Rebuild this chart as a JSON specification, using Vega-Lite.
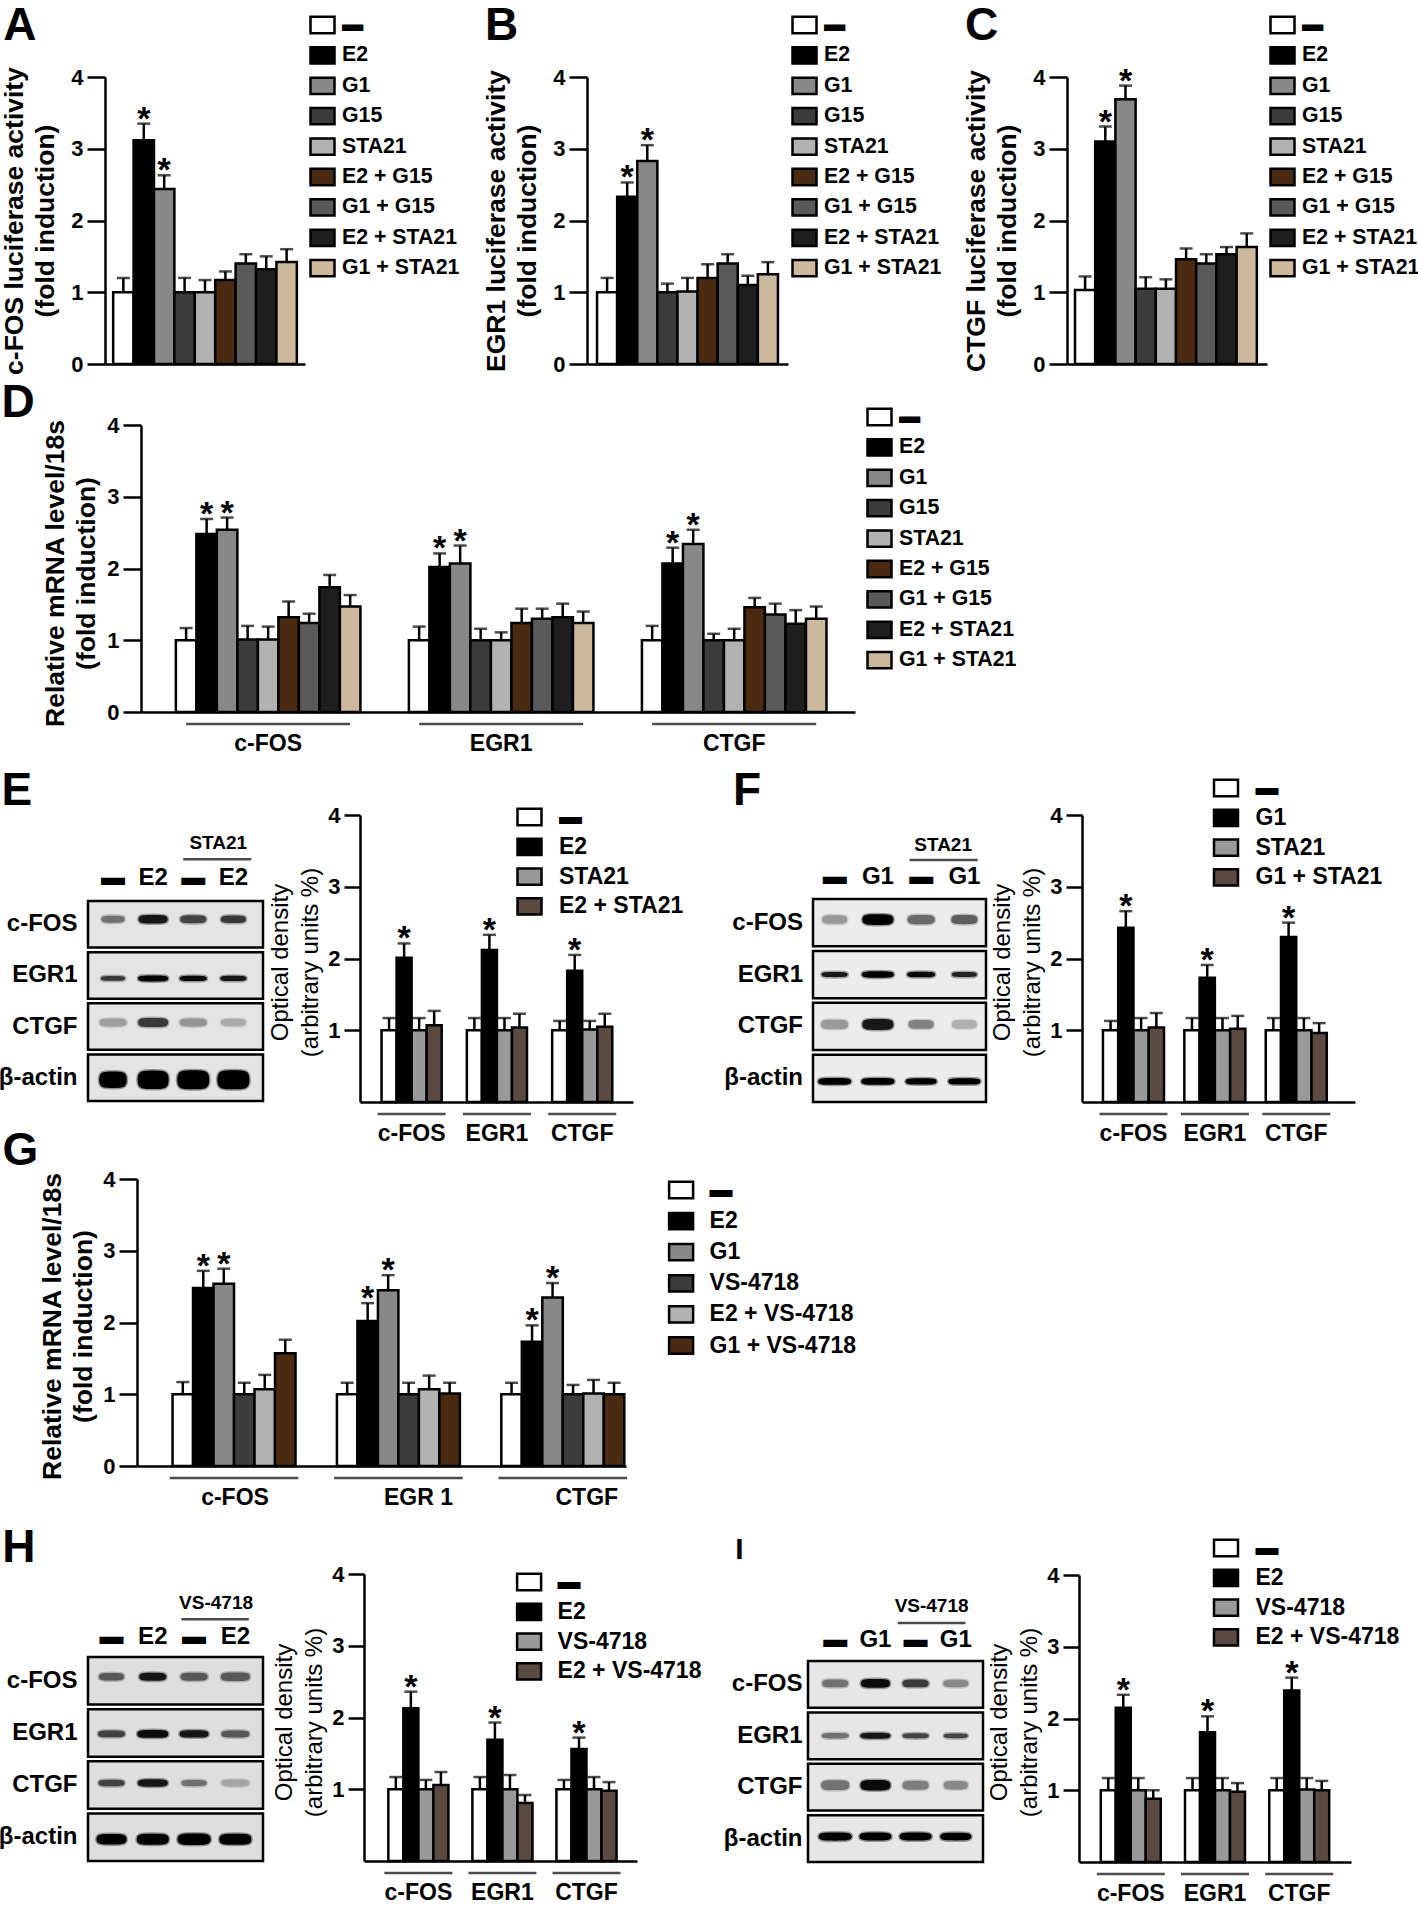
{"$schema":"https://vega.github.io/schema/vega-lite/v6.json","padding":0,"background":"white","width":1418,"height":1905,"autosize":"none",
"config":{"font":"Liberation Sans","numberFormat":"d","view":{"stroke":null},
"axis":{"grid":false,"domainColor":"black","tickColor":"black","domainWidth":2.5,"tickWidth":2.5,"labelColor":"black","titleColor":"black","labelFontWeight":"bold"},
"axisY":{"tickSize":18,"labelFontSize":22,"labelPadding":4,"titleFontSize":26.5,"titleFontWeight":"bold","titleLineHeight":31,"titlePadding":11},
"axisX":{"ticks":false,"labelAngle":0,"labelFontSize":23,"labelPadding":20},
"legend":{"symbolType":"M-1,-0.68H1V0.68H-1Z","symbolSize":576,"symbolStrokeColor":"black","symbolStrokeWidth":2.5,"labelFontWeight":"bold","labelFontSize":21.3,"labelColor":"black","rowPadding":3.4,"labelLimit":400}},
"datasets":{
"A":[{"cond":"▬","value":1,"upper":1.2},{"cond":"E2","value":3.12,"upper":3.35,"star":1},{"cond":"G1","value":2.44,"upper":2.63,"star":1},{"cond":"G15","value":1,"upper":1.2},{"cond":"STA21","value":1,"upper":1.17},{"cond":"E2 + G15","value":1.17,"upper":1.29},{"cond":"G1 + G15","value":1.4,"upper":1.53},{"cond":"E2 + STA21","value":1.32,"upper":1.5},{"cond":"G1 + STA21","value":1.42,"upper":1.6}],
"B":[{"cond":"▬","value":1,"upper":1.2},{"cond":"E2","value":2.33,"upper":2.53,"star":1},{"cond":"G1","value":2.83,"upper":3.05,"star":1},{"cond":"G15","value":1,"upper":1.12},{"cond":"STA21","value":1.01,"upper":1.2},{"cond":"E2 + G15","value":1.2,"upper":1.39},{"cond":"G1 + G15","value":1.4,"upper":1.53},{"cond":"E2 + STA21","value":1.1,"upper":1.23},{"cond":"G1 + STA21","value":1.25,"upper":1.42}],
"C":[{"cond":"▬","value":1.03,"upper":1.22},{"cond":"E2","value":3.1,"upper":3.31,"star":1},{"cond":"G1","value":3.69,"upper":3.88,"star":1},{"cond":"G15","value":1.05,"upper":1.21},{"cond":"STA21","value":1.05,"upper":1.18},{"cond":"E2 + G15","value":1.46,"upper":1.61},{"cond":"G1 + G15","value":1.4,"upper":1.53},{"cond":"E2 + STA21","value":1.53,"upper":1.63},{"cond":"G1 + STA21","value":1.63,"upper":1.82}],
"D":[{"group":"c-FOS","cond":"▬","value":1,"upper":1.17},{"group":"c-FOS","cond":"E2","value":2.48,"upper":2.69,"star":1},{"group":"c-FOS","cond":"G1","value":2.54,"upper":2.71,"star":1},{"group":"c-FOS","cond":"G15","value":1.01,"upper":1.2},{"group":"c-FOS","cond":"STA21","value":1.01,"upper":1.19},{"group":"c-FOS","cond":"E2 + G15","value":1.32,"upper":1.54},{"group":"c-FOS","cond":"G1 + G15","value":1.24,"upper":1.37},{"group":"c-FOS","cond":"E2 + STA21","value":1.74,"upper":1.91},{"group":"c-FOS","cond":"G1 + STA21","value":1.47,"upper":1.63},
{"group":"EGR1","cond":"▬","value":1,"upper":1.19},{"group":"EGR1","cond":"E2","value":2.02,"upper":2.21,"star":1},{"group":"EGR1","cond":"G1","value":2.07,"upper":2.32,"star":1},{"group":"EGR1","cond":"G15","value":1,"upper":1.16},{"group":"EGR1","cond":"STA21","value":1,"upper":1.11},{"group":"EGR1","cond":"E2 + G15","value":1.24,"upper":1.44},{"group":"EGR1","cond":"G1 + G15","value":1.3,"upper":1.44},{"group":"EGR1","cond":"E2 + STA21","value":1.32,"upper":1.51},{"group":"EGR1","cond":"G1 + STA21","value":1.24,"upper":1.4},
{"group":"CTGF","cond":"▬","value":1,"upper":1.2},{"group":"CTGF","cond":"E2","value":2.07,"upper":2.29,"star":1},{"group":"CTGF","cond":"G1","value":2.34,"upper":2.54,"star":1},{"group":"CTGF","cond":"G15","value":1,"upper":1.09},{"group":"CTGF","cond":"STA21","value":1,"upper":1.16},{"group":"CTGF","cond":"E2 + G15","value":1.46,"upper":1.59},{"group":"CTGF","cond":"G1 + G15","value":1.36,"upper":1.51},{"group":"CTGF","cond":"E2 + STA21","value":1.23,"upper":1.42},{"group":"CTGF","cond":"G1 + STA21","value":1.3,"upper":1.47}],
"E":[{"group":"c-FOS","cond":"▬","value":1,"upper":1.17},{"group":"c-FOS","cond":"E2","value":2.01,"upper":2.21,"star":1},{"group":"c-FOS","cond":"STA21","value":1,"upper":1.17},{"group":"c-FOS","cond":"E2 + STA21","value":1.07,"upper":1.27},
{"group":"EGR1","cond":"▬","value":1,"upper":1.17},{"group":"EGR1","cond":"E2","value":2.12,"upper":2.33,"star":1},{"group":"EGR1","cond":"STA21","value":1,"upper":1.17},{"group":"EGR1","cond":"E2 + STA21","value":1.04,"upper":1.23},
{"group":"CTGF","cond":"▬","value":1,"upper":1.13},{"group":"CTGF","cond":"E2","value":1.83,"upper":2.05,"star":1},{"group":"CTGF","cond":"STA21","value":1.01,"upper":1.13},{"group":"CTGF","cond":"E2 + STA21","value":1.05,"upper":1.23}],
"F":[{"group":"c-FOS","cond":"▬","value":1,"upper":1.13},{"group":"c-FOS","cond":"G1","value":2.43,"upper":2.66,"star":1},{"group":"c-FOS","cond":"STA21","value":1,"upper":1.17},{"group":"c-FOS","cond":"G1 + STA21","value":1.04,"upper":1.24},
{"group":"EGR1","cond":"▬","value":1,"upper":1.17},{"group":"EGR1","cond":"G1","value":1.73,"upper":1.91,"star":1},{"group":"EGR1","cond":"STA21","value":1,"upper":1.17},{"group":"EGR1","cond":"G1 + STA21","value":1.02,"upper":1.2},
{"group":"CTGF","cond":"▬","value":1,"upper":1.17},{"group":"CTGF","cond":"G1","value":2.3,"upper":2.5,"star":1},{"group":"CTGF","cond":"STA21","value":1,"upper":1.17},{"group":"CTGF","cond":"G1 + STA21","value":0.96,"upper":1.1}],
"G":[{"group":"c-FOS","cond":"▬","value":1,"upper":1.17},{"group":"c-FOS","cond":"E2","value":2.48,"upper":2.72,"star":1},{"group":"c-FOS","cond":"G1","value":2.54,"upper":2.75,"star":1},{"group":"c-FOS","cond":"VS-4718","value":1,"upper":1.16},{"group":"c-FOS","cond":"E2 + VS-4718","value":1.07,"upper":1.27},{"group":"c-FOS","cond":"G1 + VS-4718","value":1.57,"upper":1.76},
{"group":"EGR 1","cond":"▬","value":1,"upper":1.16},{"group":"EGR 1","cond":"E2","value":2.02,"upper":2.27,"star":1},{"group":"EGR 1","cond":"G1","value":2.45,"upper":2.66,"star":1},{"group":"EGR 1","cond":"VS-4718","value":1,"upper":1.16},{"group":"EGR 1","cond":"E2 + VS-4718","value":1.07,"upper":1.26},{"group":"EGR 1","cond":"G1 + VS-4718","value":1.01,"upper":1.16},
{"group":"CTGF","cond":"▬","value":1,"upper":1.16},{"group":"CTGF","cond":"E2","value":1.73,"upper":1.96,"star":1},{"group":"CTGF","cond":"G1","value":2.35,"upper":2.55,"star":1},{"group":"CTGF","cond":"VS-4718","value":1,"upper":1.13},{"group":"CTGF","cond":"E2 + VS-4718","value":1.01,"upper":1.2},{"group":"CTGF","cond":"G1 + VS-4718","value":1,"upper":1.16}],
"H":[{"group":"c-FOS","cond":"▬","value":1,"upper":1.17},{"group":"c-FOS","cond":"E2","value":2.13,"upper":2.36,"star":1},{"group":"c-FOS","cond":"VS-4718","value":1,"upper":1.13},{"group":"c-FOS","cond":"E2 + VS-4718","value":1.06,"upper":1.24},
{"group":"EGR1","cond":"▬","value":1,"upper":1.17},{"group":"EGR1","cond":"E2","value":1.69,"upper":1.93,"star":1},{"group":"EGR1","cond":"VS-4718","value":1,"upper":1.2},{"group":"EGR1","cond":"E2 + VS-4718","value":0.81,"upper":0.92},
{"group":"CTGF","cond":"▬","value":1,"upper":1.13},{"group":"CTGF","cond":"E2","value":1.56,"upper":1.72,"star":1},{"group":"CTGF","cond":"VS-4718","value":1,"upper":1.17},{"group":"CTGF","cond":"E2 + VS-4718","value":0.98,"upper":1.1}],
"I":[{"group":"c-FOS","cond":"▬","value":1,"upper":1.17},{"group":"c-FOS","cond":"E2","value":2.15,"upper":2.33,"star":1},{"group":"c-FOS","cond":"VS-4718","value":1,"upper":1.17},{"group":"c-FOS","cond":"E2 + VS-4718","value":0.88,"upper":1},
{"group":"EGR1","cond":"▬","value":1,"upper":1.17},{"group":"EGR1","cond":"E2","value":1.81,"upper":2.03,"star":1},{"group":"EGR1","cond":"VS-4718","value":1,"upper":1.17},{"group":"EGR1","cond":"E2 + VS-4718","value":0.98,"upper":1.1},
{"group":"CTGF","cond":"▬","value":1,"upper":1.17},{"group":"CTGF","cond":"E2","value":2.39,"upper":2.57,"star":1},{"group":"CTGF","cond":"VS-4718","value":1.01,"upper":1.17},{"group":"CTGF","cond":"E2 + VS-4718","value":1,"upper":1.13}],
"rows":[{"row":"c-FOS"},{"row":"EGR1"},{"row":"CTGF"},{"row":"β-actin"}],
"blotE":[{"row":"c-FOS","lane":"▬","area":529,"intensity":0.5},{"row":"c-FOS","lane":"E2","area":841,"intensity":0.9},{"row":"c-FOS","lane":"STA21 ▬","area":676,"intensity":0.7},{"row":"c-FOS","lane":"STA21 E2","area":625,"intensity":0.75},
{"row":"EGR1","lane":"▬","area":576,"intensity":0.75},{"row":"EGR1","lane":"E2","area":900,"intensity":1},{"row":"EGR1","lane":"STA21 ▬","area":729,"intensity":0.95},{"row":"EGR1","lane":"STA21 E2","area":676,"intensity":0.9},
{"row":"CTGF","lane":"▬","area":729,"intensity":0.3},{"row":"CTGF","lane":"E2","area":900,"intensity":0.75},{"row":"CTGF","lane":"STA21 ▬","area":729,"intensity":0.35},{"row":"CTGF","lane":"STA21 E2","area":625,"intensity":0.25},
{"row":"β-actin","lane":"▬","area":756,"intensity":1},{"row":"β-actin","lane":"E2","area":961,"intensity":1},{"row":"β-actin","lane":"STA21 ▬","area":1024,"intensity":1},{"row":"β-actin","lane":"STA21 E2","area":1024,"intensity":1}],
"blotF":[{"row":"c-FOS","lane":"▬","area":625,"intensity":0.35},{"row":"c-FOS","lane":"G1","area":961,"intensity":1},{"row":"c-FOS","lane":"STA21 ▬","area":729,"intensity":0.55},{"row":"c-FOS","lane":"STA21 G1","area":676,"intensity":0.6},
{"row":"EGR1","lane":"▬","area":676,"intensity":0.9},{"row":"EGR1","lane":"G1","area":1024,"intensity":1},{"row":"EGR1","lane":"STA21 ▬","area":784,"intensity":0.95},{"row":"EGR1","lane":"STA21 G1","area":625,"intensity":0.85},
{"row":"CTGF","lane":"▬","area":729,"intensity":0.35},{"row":"CTGF","lane":"G1","area":961,"intensity":0.9},{"row":"CTGF","lane":"STA21 ▬","area":625,"intensity":0.45},{"row":"CTGF","lane":"STA21 G1","area":625,"intensity":0.25},
{"row":"β-actin","lane":"▬","area":1089,"intensity":1},{"row":"β-actin","lane":"G1","area":1089,"intensity":1},{"row":"β-actin","lane":"STA21 ▬","area":961,"intensity":1},{"row":"β-actin","lane":"STA21 G1","area":1024,"intensity":1}],
"blotH":[{"row":"c-FOS","lane":"▬","area":625,"intensity":0.6},{"row":"c-FOS","lane":"E2","area":729,"intensity":0.9},{"row":"c-FOS","lane":"VS-4718 ▬","area":729,"intensity":0.6},{"row":"c-FOS","lane":"VS-4718 E2","area":841,"intensity":0.6},
{"row":"EGR1","lane":"▬","area":729,"intensity":0.7},{"row":"EGR1","lane":"E2","area":961,"intensity":0.95},{"row":"EGR1","lane":"VS-4718 ▬","area":841,"intensity":0.9},{"row":"EGR1","lane":"VS-4718 E2","area":784,"intensity":0.6},
{"row":"CTGF","lane":"▬","area":676,"intensity":0.7},{"row":"CTGF","lane":"E2","area":900,"intensity":0.9},{"row":"CTGF","lane":"VS-4718 ▬","area":625,"intensity":0.5},{"row":"CTGF","lane":"VS-4718 E2","area":784,"intensity":0.25},
{"row":"β-actin","lane":"▬","area":900,"intensity":1},{"row":"β-actin","lane":"E2","area":1024,"intensity":1},{"row":"β-actin","lane":"VS-4718 ▬","area":1089,"intensity":1},{"row":"β-actin","lane":"VS-4718 E2","area":1024,"intensity":1}],
"blotI":[{"row":"c-FOS","lane":"▬","area":676,"intensity":0.5},{"row":"c-FOS","lane":"G1","area":841,"intensity":0.95},{"row":"c-FOS","lane":"VS-4718 ▬","area":676,"intensity":0.75},{"row":"c-FOS","lane":"VS-4718 G1","area":625,"intensity":0.4},
{"row":"EGR1","lane":"▬","area":729,"intensity":0.5},{"row":"EGR1","lane":"G1","area":900,"intensity":0.9},{"row":"EGR1","lane":"VS-4718 ▬","area":676,"intensity":0.7},{"row":"EGR1","lane":"VS-4718 G1","area":576,"intensity":0.7},
{"row":"CTGF","lane":"▬","area":784,"intensity":0.5},{"row":"CTGF","lane":"G1","area":900,"intensity":0.95},{"row":"CTGF","lane":"VS-4718 ▬","area":676,"intensity":0.45},{"row":"CTGF","lane":"VS-4718 G1","area":576,"intensity":0.4},
{"row":"β-actin","lane":"▬","area":1089,"intensity":1},{"row":"β-actin","lane":"G1","area":1024,"intensity":1},{"row":"β-actin","lane":"VS-4718 ▬","area":1024,"intensity":1},{"row":"β-actin","lane":"VS-4718 G1","area":961,"intensity":1}]
},
"resolve":{"scale":{"x":"independent","y":"independent","fill":"independent","xOffset":"independent"},"axis":{"x":"independent","y":"independent"},"legend":{"fill":"independent"}},
"layer":[
{"data":{"name":"A"},"encoding":{"x":{"field":"cond","type":"nominal","title":null,"scale":{"type":"band","domain":["▬","E2","G1","G15","STA21","E2 + G15","G1 + G15","E2 + STA21","G1 + STA21"],"range":[105,305],"paddingInner":0,"paddingOuter":0.4,"align":0.5},"axis":{"labels":false,"orient":"bottom","offset":-1541}}},
"layer":[
{"mark":{"type":"rule","strokeWidth":2.5,"color":"black"},"encoding":{"y":{"field":"value","type":"quantitative"},"y2":{"field":"upper"}}},
{"mark":{"type":"tick","orient":"horizontal","size":13,"thickness":2.5,"color":"black"},"encoding":{"y":{"field":"upper","type":"quantitative"}}},
{"mark":{"type":"bar","stroke":"black","strokeWidth":2.5},"encoding":{"y":{"field":"value","type":"quantitative","stack":null,"scale":{"domain":[0,4],"nice":false,"range":[364,77]},"axis":{"orient":"left","offset":-105,"values":[0,1,2,3,4],"title":["c-FOS luciferase activity","(fold induction)"]}},"fill":{"field":"cond","type":"nominal","scale":{"domain":["▬","E2","G1","G15","STA21","E2 + G15","G1 + G15","E2 + STA21","G1 + STA21"],"range":["#ffffff","#000000","#888888","#3c3c3c","#b2b2b2","#4a2a10","#5a5a5a","#1e1e1e","#cdb89c"]},"legend":{"title":null,"orient":"none","legendX":309,"legendY":11.5,"labelOffset":6}}}},
{"transform":[{"filter":"datum.star"}],"mark":{"type":"text","text":"*","fontSize":34,"fontWeight":"bold","baseline":"alphabetic","dy":6,"color":"black"},"encoding":{"y":{"field":"upper","type":"quantitative"}}},
{"data":{"values":[{"panel":"A"}]},"mark":{"type":"text","fontSize":46,"fontWeight":"bold","color":"black","align":"left","baseline":"alphabetic","dx":-120,"dy":-37},"encoding":{"x":{"datum":"▬"},"y":{"datum":4},"text":{"field":"panel"}}}
]},
{"data":{"name":"B"},"encoding":{"x":{"field":"cond","type":"nominal","title":null,"scale":{"type":"band","domain":["▬","E2","G1","G15","STA21","E2 + G15","G1 + G15","E2 + STA21","G1 + STA21"],"range":[587,788],"paddingInner":0,"paddingOuter":0.5,"align":0.5},"axis":{"labels":false,"orient":"bottom","offset":-1541}}},
"layer":[
{"mark":{"type":"rule","strokeWidth":2.5,"color":"black"},"encoding":{"y":{"field":"value","type":"quantitative"},"y2":{"field":"upper"}}},
{"mark":{"type":"tick","orient":"horizontal","size":13,"thickness":2.5,"color":"black"},"encoding":{"y":{"field":"upper","type":"quantitative"}}},
{"mark":{"type":"bar","stroke":"black","strokeWidth":2.5},"encoding":{"y":{"field":"value","type":"quantitative","stack":null,"scale":{"domain":[0,4],"nice":false,"range":[364,77]},"axis":{"orient":"left","offset":-587,"values":[0,1,2,3,4],"title":["EGR1 luciferase activity","(fold induction)"]}},"fill":{"field":"cond","type":"nominal","scale":{"domain":["▬","E2","G1","G15","STA21","E2 + G15","G1 + G15","E2 + STA21","G1 + STA21"],"range":["#ffffff","#000000","#888888","#3c3c3c","#b2b2b2","#4a2a10","#5a5a5a","#1e1e1e","#cdb89c"]},"legend":{"title":null,"orient":"none","legendX":791,"legendY":11.5,"labelOffset":6}}}},
{"transform":[{"filter":"datum.star"}],"mark":{"type":"text","text":"*","fontSize":34,"fontWeight":"bold","baseline":"alphabetic","dy":6,"color":"black"},"encoding":{"y":{"field":"upper","type":"quantitative"}}},
{"data":{"values":[{"panel":"B"}]},"mark":{"type":"text","fontSize":46,"fontWeight":"bold","color":"black","align":"left","baseline":"alphabetic","dx":-122,"dy":-37},"encoding":{"x":{"datum":"▬"},"y":{"datum":4},"text":{"field":"panel"}}}
]},
{"data":{"name":"C"},"encoding":{"x":{"field":"cond","type":"nominal","title":null,"scale":{"type":"band","domain":["▬","E2","G1","G15","STA21","E2 + G15","G1 + G15","E2 + STA21","G1 + STA21"],"range":[1067,1267],"paddingInner":0,"paddingOuter":0.45,"align":0.44},"axis":{"labels":false,"orient":"bottom","offset":-1541}}},
"layer":[
{"mark":{"type":"rule","strokeWidth":2.5,"color":"black"},"encoding":{"y":{"field":"value","type":"quantitative"},"y2":{"field":"upper"}}},
{"mark":{"type":"tick","orient":"horizontal","size":13,"thickness":2.5,"color":"black"},"encoding":{"y":{"field":"upper","type":"quantitative"}}},
{"mark":{"type":"bar","stroke":"black","strokeWidth":2.5},"encoding":{"y":{"field":"value","type":"quantitative","stack":null,"scale":{"domain":[0,4],"nice":false,"range":[364,77]},"axis":{"orient":"left","offset":-1067,"values":[0,1,2,3,4],"title":["CTGF luciferase activity","(fold induction)"]}},"fill":{"field":"cond","type":"nominal","scale":{"domain":["▬","E2","G1","G15","STA21","E2 + G15","G1 + G15","E2 + STA21","G1 + STA21"],"range":["#ffffff","#000000","#888888","#3c3c3c","#b2b2b2","#4a2a10","#5a5a5a","#1e1e1e","#cdb89c"]},"legend":{"title":null,"orient":"none","legendX":1269,"legendY":11.5,"labelOffset":6}}}},
{"transform":[{"filter":"datum.star"}],"mark":{"type":"text","text":"*","fontSize":34,"fontWeight":"bold","baseline":"alphabetic","dy":6,"color":"black"},"encoding":{"y":{"field":"upper","type":"quantitative"}}},
{"data":{"values":[{"panel":"C"}]},"mark":{"type":"text","fontSize":46,"fontWeight":"bold","color":"black","align":"left","baseline":"alphabetic","dx":-120,"dy":-37},"encoding":{"x":{"datum":"▬"},"y":{"datum":4},"text":{"field":"panel"}}}
]},
{"data":{"name":"D"},"layer":[
{"encoding":{"x":{"field":"group","type":"nominal","title":null,"scale":{"type":"band","domain":["c-FOS","EGR1","CTGF"],"range":[141,855],"paddingInner":0.208,"paddingOuter":0.136,"align":0.55},"axis":{"orient":"bottom","offset":-1193}},"xOffset":{"field":"cond","type":"nominal","scale":{"domain":["▬","E2","G1","G15","STA21","E2 + G15","G1 + G15","E2 + STA21","G1 + STA21"]}}},
"layer":[
{"mark":{"type":"rule","strokeWidth":2.5,"color":"black"},"encoding":{"y":{"field":"value","type":"quantitative"},"y2":{"field":"upper"}}},
{"mark":{"type":"tick","orient":"horizontal","size":13,"thickness":2.5,"color":"black"},"encoding":{"y":{"field":"upper","type":"quantitative"}}},
{"mark":{"type":"bar","stroke":"black","strokeWidth":2.5},"encoding":{"y":{"field":"value","type":"quantitative","stack":null,"scale":{"domain":[0,4],"nice":false,"range":[712,425]},"axis":{"orient":"left","offset":-141,"values":[0,1,2,3,4],"title":["Relative mRNA level/18s","(fold induction)"],"titlePadding":6,"titleY":573}},"fill":{"field":"cond","type":"nominal","scale":{"domain":["▬","E2","G1","G15","STA21","E2 + G15","G1 + G15","E2 + STA21","G1 + STA21"],"range":["#ffffff","#000000","#888888","#3c3c3c","#b2b2b2","#4a2a10","#5a5a5a","#1e1e1e","#cdb89c"]},"legend":{"title":null,"orient":"none","legendX":866,"legendY":403.5,"labelOffset":6}}}},
{"transform":[{"filter":"datum.star"}],"mark":{"type":"text","text":"*","fontSize":34,"fontWeight":"bold","baseline":"alphabetic","dy":6,"color":"black"},"encoding":{"y":{"field":"upper","type":"quantitative"}}}
]},
{"data":{"values":[{"group":"c-FOS"},{"group":"EGR1"},{"group":"CTGF"}]},"mark":{"type":"tick","orient":"horizontal","size":164,"thickness":2.5,"color":"black"},"encoding":{"x":{"field":"group","type":"nominal","title":null},"y":{"datum":-0.167}}},
{"data":{"values":[{"panel":"D"}]},"mark":{"type":"text","fontSize":46,"fontWeight":"bold","color":"black","align":"left","baseline":"alphabetic","dx":-266.75,"dy":-8},"encoding":{"x":{"datum":"c-FOS"},"y":{"datum":4},"text":{"field":"panel"}}}
]},
{"data":{"name":"rows"},"mark":{"type":"rect","fill":"#e4e4e4","stroke":"black","strokeWidth":2.5},"encoding":{"x":{"datum":0,"scale":{"domain":[0,1],"range":[88,263]},"axis":null},"x2":{"datum":1},"y":{"field":"row","type":"nominal","title":null,"scale":{"type":"band","domain":["c-FOS","EGR1","CTGF","β-actin"],"range":[901,1101],"paddingInner":0.09,"paddingOuter":0},"axis":{"orient":"left","offset":-88,"domain":false,"ticks":false,"tickSize":0,"labelPadding":11,"labelFontSize":24}}}},
{"data":{"name":"blotE"},"layer":[
{"transform":[{"filter":"datum.row=='c-FOS'"}],"mark":{"type":"point","filled":true,"fill":"black","stroke":"black","strokeWidth":3,"strokeOpacity":0.35,"yOffset":-5,"shape":"M-1,0C-1,-0.3 -0.7,-0.3 0,-0.3C0.7,-0.3 1,-0.3 1,0C1,0.3 0.7,0.3 0,0.3C-0.7,0.3 -1,0.3 -1,0Z"},"encoding":{"x":{"field":"lane","type":"nominal","title":null,"scale":{"type":"band","domain":["▬","E2","STA21 ▬","STA21 E2"],"range":[88,263],"paddingInner":0,"paddingOuter":0.18,"align":0.34},"axis":{"orient":"top","offset":-889,"domain":false,"labelPadding":0,"labelFontSize":24,"labelExpr":"replace(datum.label,'STA21 ','')"}},"y":{"field":"row","type":"nominal","title":null,"scale":{"type":"band","domain":["c-FOS","EGR1","CTGF","β-actin"],"range":[901,1101],"paddingInner":0.09,"paddingOuter":0},"axis":null},"size":{"field":"area","type":"quantitative","scale":null},"opacity":{"field":"intensity","type":"quantitative","scale":null}}},
{"transform":[{"filter":"datum.row=='EGR1'"}],"mark":{"type":"point","filled":true,"fill":"black","stroke":"black","strokeWidth":3,"strokeOpacity":0.35,"yOffset":3,"shape":"M-1,0C-1,-0.2 -0.7,-0.2 0,-0.2C0.7,-0.2 1,-0.2 1,0C1,0.2 0.7,0.2 0,0.2C-0.7,0.2 -1,0.2 -1,0Z"},"encoding":{"x":{"field":"lane","type":"nominal"},"y":{"field":"row","type":"nominal"},"size":{"field":"area","type":"quantitative","scale":null},"opacity":{"field":"intensity","type":"quantitative","scale":null}}},
{"transform":[{"filter":"datum.row=='CTGF'"}],"mark":{"type":"point","filled":true,"fill":"black","stroke":"black","strokeWidth":3,"strokeOpacity":0.35,"yOffset":-4,"shape":"M-1,0C-1,-0.3 -0.7,-0.3 0,-0.3C0.7,-0.3 1,-0.3 1,0C1,0.3 0.7,0.3 0,0.3C-0.7,0.3 -1,0.3 -1,0Z"},"encoding":{"x":{"field":"lane","type":"nominal"},"y":{"field":"row","type":"nominal"},"size":{"field":"area","type":"quantitative","scale":null},"opacity":{"field":"intensity","type":"quantitative","scale":null}}},
{"transform":[{"filter":"datum.row=='β-actin'"}],"mark":{"type":"point","filled":true,"fill":"black","stroke":"black","strokeWidth":3,"strokeOpacity":0.35,"yOffset":2,"shape":"M-1,0C-1,-0.6 -0.7,-0.6 0,-0.6C0.7,-0.6 1,-0.6 1,0C1,0.6 0.7,0.6 0,0.6C-0.7,0.6 -1,0.6 -1,0Z"},"encoding":{"x":{"field":"lane","type":"nominal"},"y":{"field":"row","type":"nominal"},"size":{"field":"area","type":"quantitative","scale":null},"opacity":{"field":"intensity","type":"quantitative","scale":null}}},
{"data":{"values":[{"t":"STA21"}]},"mark":{"type":"text","fontSize":19,"fontWeight":"bold","color":"black","dx":25,"dy":-81},"encoding":{"x":{"datum":"STA21 ▬"},"y":{"datum":"c-FOS"},"text":{"field":"t"}}},
{"data":{"values":[{"t":"STA21"}]},"mark":{"type":"tick","orient":"horizontal","size":68,"thickness":2.5,"color":"black","xOffset":24,"yOffset":-65},"encoding":{"x":{"datum":"STA21 ▬"},"y":{"datum":"c-FOS"}}}
]},
{"data":{"name":"E"},"layer":[
{"encoding":{"x":{"field":"group","type":"nominal","title":null,"scale":{"type":"band","domain":["c-FOS","EGR1","CTGF"],"range":[360,633],"paddingInner":0.295,"paddingOuter":0.2477,"align":0.51},"axis":{"orient":"bottom","offset":-803}},"xOffset":{"field":"cond","type":"nominal","scale":{"domain":["▬","E2","STA21","E2 + STA21"]}}},
"layer":[
{"mark":{"type":"rule","strokeWidth":2.5,"color":"black"},"encoding":{"y":{"field":"value","type":"quantitative"},"y2":{"field":"upper"}}},
{"mark":{"type":"tick","orient":"horizontal","size":13,"thickness":2.5,"color":"black"},"encoding":{"y":{"field":"upper","type":"quantitative"}}},
{"mark":{"type":"bar","stroke":"black","strokeWidth":2.5},"encoding":{"y":{"field":"value","type":"quantitative","stack":null,"scale":{"domain":[0,4],"nice":false,"range":[1102,815]},"axis":{"orient":"left","offset":-360,"values":[1,2,3,4],"tickSize":16,"title":["Optical density","(arbitrary units %)"],"titleFontSize":24,"titleFontWeight":"normal","titleLineHeight":30,"titlePadding":5,"titleY":962}},"fill":{"field":"cond","type":"nominal","scale":{"domain":["▬","E2","STA21","E2 + STA21"],"range":["#ffffff","#000000","#999999","#5a4a42"]},"legend":{"title":null,"orient":"none","legendX":516,"legendY":803.5,"labelOffset":16,"labelFontSize":23,"rowPadding":2.8}}}},
{"transform":[{"filter":"datum.star"}],"mark":{"type":"text","text":"*","fontSize":34,"fontWeight":"bold","baseline":"alphabetic","dy":6,"color":"black"},"encoding":{"y":{"field":"upper","type":"quantitative"}}}
]},
{"data":{"values":[{"group":"c-FOS"},{"group":"EGR1"},{"group":"CTGF"}]},"mark":{"type":"tick","orient":"horizontal","size":68,"thickness":2.5,"color":"black"},"encoding":{"x":{"field":"group","type":"nominal","title":null},"y":{"datum":-0.167}}},
{"data":{"values":[{"panel":"E"}]},"mark":{"type":"text","fontSize":46,"fontWeight":"bold","color":"black","align":"left","baseline":"alphabetic","dx":-410,"dy":-10},"encoding":{"x":{"datum":"c-FOS"},"y":{"datum":4},"text":{"field":"panel"}}}
]},
{"data":{"name":"rows"},"mark":{"type":"rect","fill":"#ececec","stroke":"black","strokeWidth":2.5},"encoding":{"x":{"datum":0,"scale":{"domain":[0,1],"range":[813,986]},"axis":null},"x2":{"datum":1},"y":{"field":"row","type":"nominal","title":null,"scale":{"type":"band","domain":["c-FOS","EGR1","CTGF","β-actin"],"range":[899,1102],"paddingInner":0.09,"paddingOuter":0},"axis":{"orient":"left","offset":-813,"domain":false,"ticks":false,"tickSize":0,"labelPadding":10.5,"labelFontSize":24}}}},
{"data":{"name":"blotF"},"layer":[
{"transform":[{"filter":"datum.row=='c-FOS'"}],"mark":{"type":"point","filled":true,"fill":"black","stroke":"black","strokeWidth":3,"strokeOpacity":0.35,"yOffset":-3,"shape":"M-1,0C-1,-0.35 -0.7,-0.35 0,-0.35C0.7,-0.35 1,-0.35 1,0C1,0.35 0.7,0.35 0,0.35C-0.7,0.35 -1,0.35 -1,0Z"},"encoding":{"x":{"field":"lane","type":"nominal","title":null,"scale":{"type":"band","domain":["▬","G1","STA21 ▬","STA21 G1"],"range":[813,986],"paddingInner":0,"paddingOuter":0,"align":0.5},"axis":{"orient":"top","offset":-888,"domain":false,"labelPadding":0,"labelFontSize":24,"labelExpr":"replace(datum.label,'STA21 ','')"}},"y":{"field":"row","type":"nominal","title":null,"scale":{"type":"band","domain":["c-FOS","EGR1","CTGF","β-actin"],"range":[899,1102],"paddingInner":0.09,"paddingOuter":0},"axis":null},"size":{"field":"area","type":"quantitative","scale":null},"opacity":{"field":"intensity","type":"quantitative","scale":null}}},
{"transform":[{"filter":"datum.row=='EGR1'"}],"mark":{"type":"point","filled":true,"fill":"black","stroke":"black","strokeWidth":3,"strokeOpacity":0.35,"yOffset":0,"shape":"M-1,0C-1,-0.2 -0.7,-0.2 0,-0.2C0.7,-0.2 1,-0.2 1,0C1,0.2 0.7,0.2 0,0.2C-0.7,0.2 -1,0.2 -1,0Z"},"encoding":{"x":{"field":"lane","type":"nominal"},"y":{"field":"row","type":"nominal"},"size":{"field":"area","type":"quantitative","scale":null},"opacity":{"field":"intensity","type":"quantitative","scale":null}}},
{"transform":[{"filter":"datum.row=='CTGF'"}],"mark":{"type":"point","filled":true,"fill":"black","stroke":"black","strokeWidth":3,"strokeOpacity":0.35,"yOffset":-2,"shape":"M-1,0C-1,-0.35 -0.7,-0.35 0,-0.35C0.7,-0.35 1,-0.35 1,0C1,0.35 0.7,0.35 0,0.35C-0.7,0.35 -1,0.35 -1,0Z"},"encoding":{"x":{"field":"lane","type":"nominal"},"y":{"field":"row","type":"nominal"},"size":{"field":"area","type":"quantitative","scale":null},"opacity":{"field":"intensity","type":"quantitative","scale":null}}},
{"transform":[{"filter":"datum.row=='β-actin'"}],"mark":{"type":"point","filled":true,"fill":"black","stroke":"black","strokeWidth":3,"strokeOpacity":0.35,"yOffset":3,"shape":"M-1,0C-1,-0.2 -0.7,-0.2 0,-0.2C0.7,-0.2 1,-0.2 1,0C1,0.2 0.7,0.2 0,0.2C-0.7,0.2 -1,0.2 -1,0Z"},"encoding":{"x":{"field":"lane","type":"nominal"},"y":{"field":"row","type":"nominal"},"size":{"field":"area","type":"quantitative","scale":null},"opacity":{"field":"intensity","type":"quantitative","scale":null}}},
{"data":{"values":[{"t":"STA21"}]},"mark":{"type":"text","fontSize":19,"fontWeight":"bold","color":"black","dx":22,"dy":-77.5},"encoding":{"x":{"datum":"STA21 ▬"},"y":{"datum":"c-FOS"},"text":{"field":"t"}}},
{"data":{"values":[{"t":"STA21"}]},"mark":{"type":"tick","orient":"horizontal","size":68,"thickness":2.5,"color":"black","xOffset":22.5,"yOffset":-62.5},"encoding":{"x":{"datum":"STA21 ▬"},"y":{"datum":"c-FOS"}}}
]},
{"data":{"name":"F"},"layer":[
{"encoding":{"x":{"field":"group","type":"nominal","title":null,"scale":{"type":"band","domain":["c-FOS","EGR1","CTGF"],"range":[1082,1355],"paddingInner":0.25,"paddingOuter":0.302,"align":0.426},"axis":{"orient":"bottom","offset":-803}},"xOffset":{"field":"cond","type":"nominal","scale":{"domain":["▬","G1","STA21","G1 + STA21"]}}},
"layer":[
{"mark":{"type":"rule","strokeWidth":2.5,"color":"black"},"encoding":{"y":{"field":"value","type":"quantitative"},"y2":{"field":"upper"}}},
{"mark":{"type":"tick","orient":"horizontal","size":13,"thickness":2.5,"color":"black"},"encoding":{"y":{"field":"upper","type":"quantitative"}}},
{"mark":{"type":"bar","stroke":"black","strokeWidth":2.5},"encoding":{"y":{"field":"value","type":"quantitative","stack":null,"scale":{"domain":[0,4],"nice":false,"range":[1102,815]},"axis":{"orient":"left","offset":-1082,"values":[1,2,3,4],"tickSize":16,"title":["Optical density","(arbitrary units %)"],"titleFontSize":24,"titleFontWeight":"normal","titleLineHeight":30,"titlePadding":5,"titleY":962}},"fill":{"field":"cond","type":"nominal","scale":{"domain":["▬","G1","STA21","G1 + STA21"],"range":["#ffffff","#000000","#999999","#5a4a42"]},"legend":{"title":null,"orient":"none","legendX":1212.5,"legendY":774.5,"labelOffset":16,"labelFontSize":23,"rowPadding":2.8}}}},
{"transform":[{"filter":"datum.star"}],"mark":{"type":"text","text":"*","fontSize":34,"fontWeight":"bold","baseline":"alphabetic","dy":6,"color":"black"},"encoding":{"y":{"field":"upper","type":"quantitative"}}}
]},
{"data":{"values":[{"group":"c-FOS"},{"group":"EGR1"},{"group":"CTGF"}]},"mark":{"type":"tick","orient":"horizontal","size":68,"thickness":2.5,"color":"black"},"encoding":{"x":{"field":"group","type":"nominal","title":null},"y":{"datum":-0.167}}},
{"data":{"values":[{"panel":"F"}]},"mark":{"type":"text","fontSize":46,"fontWeight":"bold","color":"black","align":"left","baseline":"alphabetic","dx":-400.4,"dy":-10},"encoding":{"x":{"datum":"c-FOS"},"y":{"datum":4},"text":{"field":"panel"}}}
]},
{"data":{"name":"G"},"layer":[
{"encoding":{"x":{"field":"group","type":"nominal","title":null,"scale":{"type":"band","domain":["c-FOS","EGR 1","CTGF"],"range":[137,626],"paddingInner":0.252,"paddingOuter":0.1133,"align":0.954},"axis":{"orient":"bottom","offset":-439,"labels":false}},"xOffset":{"field":"cond","type":"nominal","scale":{"domain":["▬","E2","G1","VS-4718","E2 + VS-4718","G1 + VS-4718"]}}},
"layer":[
{"mark":{"type":"rule","strokeWidth":2.5,"color":"black"},"encoding":{"y":{"field":"value","type":"quantitative"},"y2":{"field":"upper"}}},
{"mark":{"type":"tick","orient":"horizontal","size":13,"thickness":2.5,"color":"black"},"encoding":{"y":{"field":"upper","type":"quantitative"}}},
{"mark":{"type":"bar","stroke":"black","strokeWidth":2.5},"encoding":{"y":{"field":"value","type":"quantitative","stack":null,"scale":{"domain":[0,4],"nice":false,"range":[1466,1179]},"axis":{"orient":"left","offset":-137,"values":[0,1,2,3,4],"title":["Relative mRNA level/18s","(fold induction)"],"titlePadding":5,"titleY":1326}},"fill":{"field":"cond","type":"nominal","scale":{"domain":["▬","E2","G1","VS-4718","E2 + VS-4718","G1 + VS-4718"],"range":["#ffffff","#000000","#888888","#3c3c3c","#b2b2b2","#4a2a10"]},"legend":{"title":null,"orient":"none","legendX":667.6,"legendY":1176.5,"labelOffset":15,"labelFontSize":23,"rowPadding":4.1}}}},
{"transform":[{"filter":"datum.star"}],"mark":{"type":"text","text":"*","fontSize":34,"fontWeight":"bold","baseline":"alphabetic","dy":6,"color":"black"},"encoding":{"y":{"field":"upper","type":"quantitative"}}}
]},
{"data":{"values":[{"group":"c-FOS"},{"group":"EGR 1"},{"group":"CTGF"}]},"mark":{"type":"tick","orient":"horizontal","size":128.6,"thickness":2.5,"color":"black"},"encoding":{"x":{"field":"group","type":"nominal","title":null},"y":{"datum":-0.167}}},
{"data":{"values":[{"group":"c-FOS"}]},"mark":{"type":"text","fontSize":23,"fontWeight":"bold","color":"black","dx":1},"encoding":{"x":{"field":"group","type":"nominal","title":null},"y":{"datum":-0.446},"text":{"field":"group"}}},
{"data":{"values":[{"group":"EGR 1"}]},"mark":{"type":"text","fontSize":23,"fontWeight":"bold","color":"black","dx":20},"encoding":{"x":{"field":"group","type":"nominal","title":null},"y":{"datum":-0.446},"text":{"field":"group"}}},
{"data":{"values":[{"group":"CTGF"}]},"mark":{"type":"text","fontSize":23,"fontWeight":"bold","color":"black","dx":24},"encoding":{"x":{"field":"group","type":"nominal","title":null},"y":{"datum":-0.446},"text":{"field":"group"}}},
{"data":{"values":[{"panel":"G"}]},"mark":{"type":"text","fontSize":46,"fontWeight":"bold","color":"black","align":"left","baseline":"alphabetic","dx":-231.6,"dy":-14},"encoding":{"x":{"datum":"c-FOS"},"y":{"datum":4},"text":{"field":"panel"}}}
]},
{"data":{"name":"rows"},"mark":{"type":"rect","fill":"#dedede","stroke":"black","strokeWidth":2.5},"encoding":{"x":{"datum":0,"scale":{"domain":[0,1],"range":[88,263]},"axis":null},"x2":{"datum":1},"y":{"field":"row","type":"nominal","title":null,"scale":{"type":"band","domain":["c-FOS","EGR1","CTGF","β-actin"],"range":[1657,1861],"paddingInner":0.09,"paddingOuter":0},"axis":{"orient":"left","offset":-88,"domain":false,"ticks":false,"tickSize":0,"labelPadding":11,"labelFontSize":24}}}},
{"data":{"name":"blotH"},"layer":[
{"transform":[{"filter":"datum.row=='c-FOS'"}],"mark":{"type":"point","filled":true,"fill":"black","stroke":"black","strokeWidth":3,"strokeOpacity":0.35,"yOffset":-4,"shape":"M-1,0C-1,-0.3 -0.7,-0.3 0,-0.3C0.7,-0.3 1,-0.3 1,0C1,0.3 0.7,0.3 0,0.3C-0.7,0.3 -1,0.3 -1,0Z"},"encoding":{"x":{"field":"lane","type":"nominal","title":null,"scale":{"type":"band","domain":["▬","E2","VS-4718 ▬","VS-4718 E2"],"range":[88,263],"paddingInner":0,"paddingOuter":0.119,"align":0.29},"axis":{"orient":"top","offset":-1648,"domain":false,"labelPadding":0,"labelFontSize":24,"labelExpr":"replace(datum.label,'VS-4718 ','')"}},"y":{"field":"row","type":"nominal","title":null,"scale":{"type":"band","domain":["c-FOS","EGR1","CTGF","β-actin"],"range":[1657,1861],"paddingInner":0.09,"paddingOuter":0},"axis":null},"size":{"field":"area","type":"quantitative","scale":null},"opacity":{"field":"intensity","type":"quantitative","scale":null}}},
{"transform":[{"filter":"datum.row=='EGR1'"}],"mark":{"type":"point","filled":true,"fill":"black","stroke":"black","strokeWidth":3,"strokeOpacity":0.35,"yOffset":1,"shape":"M-1,0C-1,-0.25 -0.7,-0.25 0,-0.25C0.7,-0.25 1,-0.25 1,0C1,0.25 0.7,0.25 0,0.25C-0.7,0.25 -1,0.25 -1,0Z"},"encoding":{"x":{"field":"lane","type":"nominal"},"y":{"field":"row","type":"nominal"},"size":{"field":"area","type":"quantitative","scale":null},"opacity":{"field":"intensity","type":"quantitative","scale":null}}},
{"transform":[{"filter":"datum.row=='CTGF'"}],"mark":{"type":"point","filled":true,"fill":"black","stroke":"black","strokeWidth":3,"strokeOpacity":0.35,"yOffset":-2,"shape":"M-1,0C-1,-0.25 -0.7,-0.25 0,-0.25C0.7,-0.25 1,-0.25 1,0C1,0.25 0.7,0.25 0,0.25C-0.7,0.25 -1,0.25 -1,0Z"},"encoding":{"x":{"field":"lane","type":"nominal"},"y":{"field":"row","type":"nominal"},"size":{"field":"area","type":"quantitative","scale":null},"opacity":{"field":"intensity","type":"quantitative","scale":null}}},
{"transform":[{"filter":"datum.row=='β-actin'"}],"mark":{"type":"point","filled":true,"fill":"black","stroke":"black","strokeWidth":3,"strokeOpacity":0.35,"yOffset":2,"shape":"M-1,0C-1,-0.35 -0.7,-0.35 0,-0.35C0.7,-0.35 1,-0.35 1,0C1,0.35 0.7,0.35 0,0.35C-0.7,0.35 -1,0.35 -1,0Z"},"encoding":{"x":{"field":"lane","type":"nominal"},"y":{"field":"row","type":"nominal"},"size":{"field":"area","type":"quantitative","scale":null},"opacity":{"field":"intensity","type":"quantitative","scale":null}}},
{"data":{"values":[{"t":"VS-4718"}]},"mark":{"type":"text","fontSize":19,"fontWeight":"bold","color":"black","dx":22,"dy":-77.5},"encoding":{"x":{"datum":"VS-4718 ▬"},"y":{"datum":"c-FOS"},"text":{"field":"t"}}},
{"data":{"values":[{"t":"VS-4718"}]},"mark":{"type":"tick","orient":"horizontal","size":67.5,"thickness":2.5,"color":"black","xOffset":21,"yOffset":-61.5},"encoding":{"x":{"datum":"VS-4718 ▬"},"y":{"datum":"c-FOS"}}}
]},
{"data":{"name":"H"},"layer":[
{"encoding":{"x":{"field":"group","type":"nominal","title":null,"scale":{"type":"band","domain":["c-FOS","EGR1","CTGF"],"range":[364,637],"paddingInner":0.285,"paddingOuter":0.2665,"align":0.543},"axis":{"orient":"bottom","offset":-44}},"xOffset":{"field":"cond","type":"nominal","scale":{"domain":["▬","E2","VS-4718","E2 + VS-4718"]}}},
"layer":[
{"mark":{"type":"rule","strokeWidth":2.5,"color":"black"},"encoding":{"y":{"field":"value","type":"quantitative"},"y2":{"field":"upper"}}},
{"mark":{"type":"tick","orient":"horizontal","size":13,"thickness":2.5,"color":"black"},"encoding":{"y":{"field":"upper","type":"quantitative"}}},
{"mark":{"type":"bar","stroke":"black","strokeWidth":2.5},"encoding":{"y":{"field":"value","type":"quantitative","stack":null,"scale":{"domain":[0,4],"nice":false,"range":[1861,1574]},"axis":{"orient":"left","offset":-364,"values":[1,2,3,4],"tickSize":16,"title":["Optical density","(arbitrary units %)"],"titleFontSize":24,"titleFontWeight":"normal","titleLineHeight":30,"titlePadding":5,"titleY":1722}},"fill":{"field":"cond","type":"nominal","scale":{"domain":["▬","E2","VS-4718","E2 + VS-4718"],"range":["#ffffff","#000000","#999999","#5a4a42"]},"legend":{"title":null,"orient":"none","legendX":515.6,"legendY":1568.5,"labelOffset":15,"labelFontSize":23,"rowPadding":2.8}}}},
{"transform":[{"filter":"datum.star"}],"mark":{"type":"text","text":"*","fontSize":34,"fontWeight":"bold","baseline":"alphabetic","dy":6,"color":"black"},"encoding":{"y":{"field":"upper","type":"quantitative"}}}
]},
{"data":{"values":[{"group":"c-FOS"},{"group":"EGR1"},{"group":"CTGF"}]},"mark":{"type":"tick","orient":"horizontal","size":68,"thickness":2.5,"color":"black"},"encoding":{"x":{"field":"group","type":"nominal","title":null},"y":{"datum":-0.167}}},
{"data":{"values":[{"panel":"H"}]},"mark":{"type":"text","fontSize":46,"fontWeight":"bold","color":"black","align":"left","baseline":"alphabetic","dx":-416,"dy":-12},"encoding":{"x":{"datum":"c-FOS"},"y":{"datum":4},"text":{"field":"panel"}}}
]},
{"data":{"name":"rows"},"mark":{"type":"rect","fill":"#e6e6e6","stroke":"black","strokeWidth":2.5},"encoding":{"x":{"datum":0,"scale":{"domain":[0,1],"range":[808,983]},"axis":null},"x2":{"datum":1},"y":{"field":"row","type":"nominal","title":null,"scale":{"type":"band","domain":["c-FOS","EGR1","CTGF","β-actin"],"range":[1661,1862],"paddingInner":0.09,"paddingOuter":0},"axis":{"orient":"left","offset":-808,"domain":false,"ticks":false,"tickSize":0,"labelPadding":6,"labelFontSize":24}}}},
{"data":{"name":"blotI"},"layer":[
{"transform":[{"filter":"datum.row=='c-FOS'"}],"mark":{"type":"point","filled":true,"fill":"black","stroke":"black","strokeWidth":3,"strokeOpacity":0.35,"yOffset":-1,"shape":"M-1,0C-1,-0.3 -0.7,-0.3 0,-0.3C0.7,-0.3 1,-0.3 1,0C1,0.3 0.7,0.3 0,0.3C-0.7,0.3 -1,0.3 -1,0Z"},"encoding":{"x":{"field":"lane","type":"nominal","title":null,"scale":{"type":"band","domain":["▬","G1","VS-4718 ▬","VS-4718 G1"],"range":[808,983],"paddingInner":0,"paddingOuter":0.177,"align":0.5},"axis":{"orient":"top","offset":-1651,"domain":false,"labelPadding":0,"labelFontSize":24,"labelExpr":"replace(datum.label,'VS-4718 ','')"}},"y":{"field":"row","type":"nominal","title":null,"scale":{"type":"band","domain":["c-FOS","EGR1","CTGF","β-actin"],"range":[1661,1862],"paddingInner":0.09,"paddingOuter":0},"axis":null},"size":{"field":"area","type":"quantitative","scale":null},"opacity":{"field":"intensity","type":"quantitative","scale":null}}},
{"transform":[{"filter":"datum.row=='EGR1'"}],"mark":{"type":"point","filled":true,"fill":"black","stroke":"black","strokeWidth":3,"strokeOpacity":0.35,"yOffset":0,"shape":"M-1,0C-1,-0.2 -0.7,-0.2 0,-0.2C0.7,-0.2 1,-0.2 1,0C1,0.2 0.7,0.2 0,0.2C-0.7,0.2 -1,0.2 -1,0Z"},"encoding":{"x":{"field":"lane","type":"nominal"},"y":{"field":"row","type":"nominal"},"size":{"field":"area","type":"quantitative","scale":null},"opacity":{"field":"intensity","type":"quantitative","scale":null}}},
{"transform":[{"filter":"datum.row=='CTGF'"}],"mark":{"type":"point","filled":true,"fill":"black","stroke":"black","strokeWidth":3,"strokeOpacity":0.35,"yOffset":-2,"shape":"M-1,0C-1,-0.35 -0.7,-0.35 0,-0.35C0.7,-0.35 1,-0.35 1,0C1,0.35 0.7,0.35 0,0.35C-0.7,0.35 -1,0.35 -1,0Z"},"encoding":{"x":{"field":"lane","type":"nominal"},"y":{"field":"row","type":"nominal"},"size":{"field":"area","type":"quantitative","scale":null},"opacity":{"field":"intensity","type":"quantitative","scale":null}}},
{"transform":[{"filter":"datum.row=='β-actin'"}],"mark":{"type":"point","filled":true,"fill":"black","stroke":"black","strokeWidth":3,"strokeOpacity":0.35,"yOffset":-2,"shape":"M-1,0C-1,-0.25 -0.7,-0.25 0,-0.25C0.7,-0.25 1,-0.25 1,0C1,0.25 0.7,0.25 0,0.25C-0.7,0.25 -1,0.25 -1,0Z"},"encoding":{"x":{"field":"lane","type":"nominal"},"y":{"field":"row","type":"nominal"},"size":{"field":"area","type":"quantitative","scale":null},"opacity":{"field":"intensity","type":"quantitative","scale":null}}},
{"data":{"values":[{"t":"VS-4718"}]},"mark":{"type":"text","fontSize":19,"fontWeight":"bold","color":"black","dx":16,"dy":-78.5},"encoding":{"x":{"datum":"VS-4718 ▬"},"y":{"datum":"c-FOS"},"text":{"field":"t"}}},
{"data":{"values":[{"t":"VS-4718"}]},"mark":{"type":"tick","orient":"horizontal","size":67.7,"thickness":2.5,"color":"black","xOffset":16,"yOffset":-61.5},"encoding":{"x":{"datum":"VS-4718 ▬"},"y":{"datum":"c-FOS"}}}
]},
{"data":{"name":"I"},"layer":[
{"encoding":{"x":{"field":"group","type":"nominal","title":null,"scale":{"type":"band","domain":["c-FOS","EGR1","CTGF"],"range":[1079,1351],"paddingInner":0.288,"paddingOuter":0.2585,"align":0.5},"axis":{"orient":"bottom","offset":-43}},"xOffset":{"field":"cond","type":"nominal","scale":{"domain":["▬","E2","VS-4718","E2 + VS-4718"]}}},
"layer":[
{"mark":{"type":"rule","strokeWidth":2.5,"color":"black"},"encoding":{"y":{"field":"value","type":"quantitative"},"y2":{"field":"upper"}}},
{"mark":{"type":"tick","orient":"horizontal","size":13,"thickness":2.5,"color":"black"},"encoding":{"y":{"field":"upper","type":"quantitative"}}},
{"mark":{"type":"bar","stroke":"black","strokeWidth":2.5},"encoding":{"y":{"field":"value","type":"quantitative","stack":null,"scale":{"domain":[0,4],"nice":false,"range":[1862,1575]},"axis":{"orient":"left","offset":-1079,"values":[1,2,3,4],"tickSize":16,"title":["Optical density","(arbitrary units %)"],"titleFontSize":24,"titleFontWeight":"normal","titleLineHeight":30,"titlePadding":5,"titleY":1722}},"fill":{"field":"cond","type":"nominal","scale":{"domain":["▬","E2","VS-4718","E2 + VS-4718"],"range":["#ffffff","#000000","#999999","#5a4a42"]},"legend":{"title":null,"orient":"none","legendX":1212.5,"legendY":1534.5,"labelOffset":16,"labelFontSize":23,"rowPadding":2.8}}}},
{"transform":[{"filter":"datum.star"}],"mark":{"type":"text","text":"*","fontSize":34,"fontWeight":"bold","baseline":"alphabetic","dy":6,"color":"black"},"encoding":{"y":{"field":"upper","type":"quantitative"}}}
]},
{"data":{"values":[{"group":"c-FOS"},{"group":"EGR1"},{"group":"CTGF"}]},"mark":{"type":"tick","orient":"horizontal","size":68,"thickness":2.5,"color":"black"},"encoding":{"x":{"field":"group","type":"nominal","title":null},"y":{"datum":-0.167}}},
{"data":{"values":[{"panel":"I"}]},"mark":{"type":"text","fontSize":30,"fontWeight":"bold","color":"black","align":"left","baseline":"alphabetic","dx":-395.4,"dy":-16},"encoding":{"x":{"datum":"c-FOS"},"y":{"datum":4},"text":{"field":"panel"}}}
]}
]}
